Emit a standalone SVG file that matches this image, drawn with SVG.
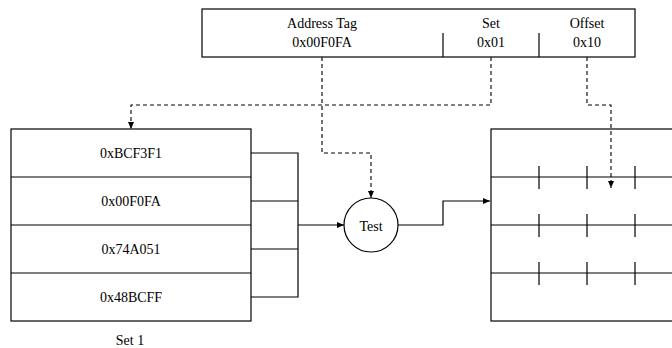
<svg xmlns="http://www.w3.org/2000/svg" width="672" height="348" viewBox="0 0 672 348">
<defs>
<style>
.box{fill:#fff;stroke:#000;stroke-width:1.2}
.ln{fill:none;stroke:#000;stroke-width:1.2}
.dash{fill:none;stroke:#000;stroke-width:1.1;stroke-dasharray:4,3}
text{font-family:"Liberation Serif","Times New Roman",serif;font-size:14px;fill:#000;text-anchor:middle}
</style>
<marker id="ah" viewBox="0 0 7 6" refX="7" refY="3" markerWidth="7" markerHeight="6" markerUnits="userSpaceOnUse" orient="auto">
<path d="M0,0 L7,3 L0,6 z" fill="#000"/>
</marker>
</defs>
<rect width="672" height="348" fill="#fff"/>
<g id="address">
<rect class="box" x="202" y="9" width="433" height="48"/>
<line class="ln" x1="443" y1="33" x2="443" y2="57"/>
<line class="ln" x1="539" y1="33" x2="539" y2="57"/>
<text x="322" y="28">Address Tag</text>
<text x="322" y="47">0x00F0FA</text>
<text x="491" y="28">Set</text>
<text x="491" y="47">0x01</text>
<text x="587" y="28">Offset</text>
<text x="587" y="47">0x10</text>
</g>
<g id="set1">
<rect class="box" x="11" y="129" width="240" height="192"/>
<line class="ln" x1="11" y1="177" x2="251" y2="177"/>
<line class="ln" x1="11" y1="225" x2="251" y2="225"/>
<line class="ln" x1="11" y1="273" x2="251" y2="273"/>
<text x="131" y="158">0xBCF3F1</text>
<text x="131" y="206">0x00F0FA</text>
<text x="131" y="254">0x74A051</text>
<text x="131" y="302">0x48BCFF</text>
<text x="130" y="345">Set 1</text>
</g>
<g id="test">
<circle class="box" cx="371" cy="225" r="27"/>
<text x="371" y="231">Test</text>
</g>
<g id="cache">
<rect class="box" x="491" y="129" width="200" height="192"/>
<line class="ln" x1="491" y1="177" x2="691" y2="177"/>
<line class="ln" x1="491" y1="225" x2="691" y2="225"/>
<line class="ln" x1="491" y1="273" x2="691" y2="273"/>
<path class="ln" d="M539,166V189M587,166V189M635,166V189M539,214V237M587,214V237M635,214V237M539,262V285M587,262V285M635,262V285"/>
</g>
<g id="connectors">
<path class="ln" d="M251,153H298V297H251M251,201H298M251,249H298"/>
<path class="ln" d="M298,225H344" marker-end="url(#ah)"/>
<path class="ln" d="M398,225H443V201H490" marker-end="url(#ah)"/>
<path class="dash" d="M322,57V153H371V198" marker-end="url(#ah)"/>
<path class="dash" d="M491,57V105H131V129" marker-end="url(#ah)"/>
<path class="dash" d="M587,57V105H611V188" marker-end="url(#ah)"/>
</g>
</svg>
